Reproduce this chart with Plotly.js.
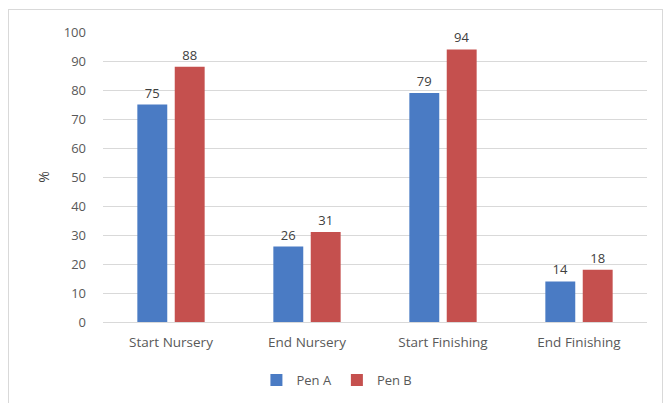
<!DOCTYPE html>
<html><head><meta charset="utf-8">
<script src="https://cdn.plot.ly/plotly-3.0.1.min.js"></script>
<style>
html,body{margin:0;padding:0;background:#fff;}
#wrap{position:relative;width:666px;height:403px;}
#chart{position:absolute;left:0;top:0;width:666px;height:403px;}
#frame{position:absolute;left:8px;top:9px;width:653px;height:400px;border:1px solid #d9d9d9;pointer-events:none;}
</style></head>
<body>
<div id="wrap"><div id="chart"></div><div id="frame"></div></div>
<script>
const categories = ["Start Nursery", "End Nursery", "Start Finishing", "End Finishing"];
const penA = [75, 26, 79, 14];
const penB = [88, 31, 94, 18];
const seriesNames = ["Pen A", "Pen B"];
const yTicks = [0,10,20,30,40,50,60,70,80,90,100];

const font = {family: "Open Sans, Liberation Sans, sans-serif", size: 12.5, color: "#595959"};
const traces = [
  {type:"bar", x:categories, y:penA, name:seriesNames[0], marker:{color:"#4a7bc4"},
   text:penA.map(String), textposition:"outside", cliponaxis:false, textfont:{size:13,color:"#404040"}},
  {type:"bar", x:categories, y:penB, name:seriesNames[1], marker:{color:"#c5504e"},
   text:penB.map(String), textposition:"outside", cliponaxis:false, textfont:{size:13,color:"#404040"}}
];
const layout = {
  width:666, height:403,
  margin:{l:103, r:19, t:32, b:81, autoexpand:false},
  paper_bgcolor:"rgba(0,0,0,0)", plot_bgcolor:"#fff",
  font: font,
  barmode:"group", bargap:0.45, bargroupgap:0.2,
  xaxis:{showgrid:false, showline:true, linecolor:"#d9d9d9", ticks:"", tickfont:{size:13.5,color:"#595959"}, automargin:false, ticklabelstandoff:8},
  yaxis:{range:[0,100], tickvals:yTicks, showgrid:true, gridcolor:"#d9d9d9", zeroline:false, showline:false, automargin:false,
         ticks:"", ticklen:0, tickfont:{size:13,color:"#595959"}, ticklabelstandoff:16,
         title:{text:"%", font:{size:14,color:"#404040"}, standoff:10}},
  showlegend:true,
  legend:{orientation:"h", x:0.43, xanchor:"center", yref:"container", y:0.057, yanchor:"middle", font:{size:13,color:"#595959"}, itemwidth:30},
};
Plotly.newPlot("chart", traces, layout, {displayModeBar:false, staticPlot:true});
</script>
</body></html>
